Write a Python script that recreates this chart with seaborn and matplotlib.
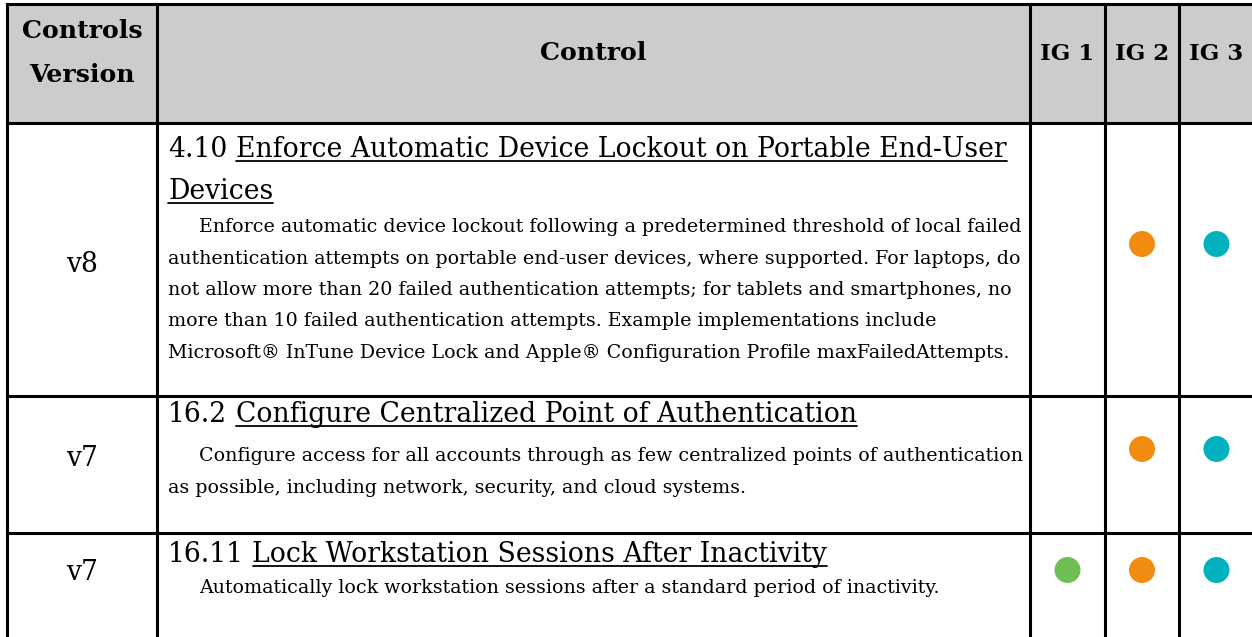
import numpy as np
import pandas as pd
import seaborn as sns
import matplotlib
matplotlib.use("Agg")
import matplotlib.pyplot as plt
from matplotlib.patches import Rectangle

# ---------------- data ----------------
header_version = ["Controls", "Version"]
header_control = "Control"
ig_labels = ["IG 1", "IG 2", "IG 3"]

versions = ["v8", "v7", "v7"]
control_ids = ["4.10", "16.2", "16.11"]
control_titles = [
    ["Enforce Automatic Device Lockout on Portable End-User", "Devices"],
    ["Configure Centralized Point of Authentication"],
    ["Lock Workstation Sessions After Inactivity"],
]
descriptions = [
    ["Enforce automatic device lockout following a predetermined threshold of local failed",
     "authentication attempts on portable end-user devices, where supported. For laptops, do",
     "not allow more than 20 failed authentication attempts; for tablets and smartphones, no",
     "more than 10 failed authentication attempts. Example implementations include",
     "Microsoft\u00ae InTune Device Lock and Apple\u00ae Configuration Profile maxFailedAttempts."],
    ["Configure access for all accounts through as few centralized points of authentication",
     "as possible, including network, security, and cloud systems."],
    ["Automatically lock workstation sessions after a standard period of inactivity."],
]
ig1 = [False, False, True]
ig2 = [True, True, True]
ig3 = [True, True, True]
ig_colors = ["#70BF54", "#F28C11", "#02B1BE"]

# ---------------- layout ----------------
W, H = 1252, 637
col_edges = [7, 157, 1030, 1105, 1179, 1254]
row_edges = [4, 123, 396, 533, 645]
dot_y = [244, 449, 570]
version_base = [272, 466, 580]
title_base = [[157, 199], [422], [562]]
body_base = [[232, 263.5, 295, 326.5, 358], [461, 493], [593]]
text_left = 168
indent_left = 199

sns.set_theme(style="white")
plt.rcParams["font.family"] = ["DejaVu Serif"]
plt.rcParams["text.color"] = "black"

fig = plt.figure(figsize=(W / 100, H / 100), dpi=100)
ax = fig.add_axes([0, 0, 1, 1])
renderer = fig.canvas.get_renderer()


def text_width(s, size, **kw):
    t = ax.text(0, 0, s, fontsize=size, **kw)
    w = t.get_window_extent(renderer).width
    t.remove()
    return w


def fit_size(s, target_px, **kw):
    return 20 * target_px / text_width(s, 20, **kw)


body_fs = fit_size(descriptions[0][1], 846)
title_fs = fit_size(control_ids[0] + " " + control_titles[0][0], 837)
head_fs = fit_size("Controls", 121, fontweight="bold")
ig_fs = fit_size("IG 1", 54, fontweight="bold")
ver_fs = title_fs

# header background
ax.add_patch(Rectangle((col_edges[0], row_edges[0]), col_edges[-1] - col_edges[0],
                       row_edges[1] - row_edges[0], facecolor="#CCCCCC", edgecolor="none", zorder=0))

# dots via seaborn
recs = []
flags = [ig1, ig2, ig3]
for i in range(len(versions)):
    for g in range(3):
        if flags[g][i]:
            recs.append({"x": (col_edges[2 + g] + col_edges[3 + g]) / 2, "y": dot_y[i], "ig": ig_labels[g]})
df = pd.DataFrame(recs)
sns.scatterplot(data=df, x="x", y="y", hue="ig", palette=dict(zip(ig_labels, ig_colors)),
                s=350, linewidth=0, legend=False, ax=ax, zorder=3)

ax.set_xlim(0, W)
ax.set_ylim(H, 0)
ax.axis("off")

# grid lines
lw = 2.2
for x in col_edges:
    ax.plot([x, x], [row_edges[0], row_edges[-1]], color="black", lw=lw, solid_capstyle="projecting", zorder=2)
for y in row_edges:
    ax.plot([col_edges[0], col_edges[-1]], [y, y], color="black", lw=lw, solid_capstyle="projecting", zorder=2)

# header texts
cx0 = (col_edges[0] + col_edges[1]) / 2
ax.text(cx0, 38, header_version[0], ha="center", va="baseline", fontsize=head_fs, fontweight="bold", color="black")
ax.text(cx0, 82, header_version[1], ha="center", va="baseline", fontsize=head_fs, fontweight="bold", color="black")
ax.text((col_edges[1] + col_edges[2]) / 2, 60, header_control, ha="center", va="baseline",
        fontsize=head_fs, fontweight="bold", color="black")
for g in range(3):
    ax.text((col_edges[2 + g] + col_edges[3 + g]) / 2, 60, ig_labels[g], ha="center", va="baseline",
            fontsize=ig_fs, fontweight="bold", color="black")

space_w = text_width("a a", title_fs) - text_width("aa", title_fs)
inv = ax.transData.inverted()


def underline(t, base):
    bb = t.get_window_extent(renderer)
    x0 = inv.transform((bb.x0, 0))[0]
    x1 = inv.transform((bb.x1, 0))[0]
    ax.plot([x0, x1], [base + 4, base + 4], color="black", lw=1.3, zorder=2)


for i in range(len(versions)):
    ax.text(cx0, version_base[i], versions[i], ha="center", va="baseline", fontsize=ver_fs, color="black")
    # title
    t_id = ax.text(text_left, title_base[i][0], control_ids[i], ha="left", va="baseline",
                   fontsize=title_fs, color="black")
    id_w = t_id.get_window_extent(renderer).width
    for j, line in enumerate(control_titles[i]):
        x = text_left + id_w + space_w if j == 0 else text_left
        t = ax.text(x, title_base[i][j], line, ha="left", va="baseline", fontsize=title_fs, color="black")
        underline(t, title_base[i][j])
    # description
    for j, line in enumerate(descriptions[i]):
        x = indent_left if j == 0 else text_left
        ax.text(x, body_base[i][j], line, ha="left", va="baseline", fontsize=body_fs, color="black")

fig.savefig("out.png", dpi=100)
